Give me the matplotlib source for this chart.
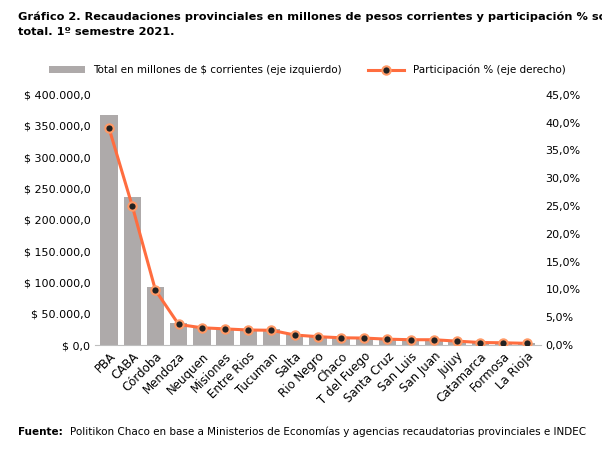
import matplotlib.pyplot as plt
from matplotlib.ticker import FuncFormatter

provincias = ["PBA", "CABA", "Córdoba", "Mendoza", "Neuquen", "Misiones", "Entre Rios",
              "Tucuman", "Salta", "Rio Negro", "Chaco", "T del Fuego", "Santa Cruz",
              "San Luis", "San Juan", "Jujuy", "Catamarca", "Formosa", "La Rioja"]
montos = [367600, 235900, 92400, 34800, 29200, 27300, 25400, 25000, 17000, 14100,
          12200, 11800, 9900, 8900, 8900, 6600, 4200, 3800, 2800]
participacion = [38.96, 25.0, 9.86, 3.7, 3.1, 2.9, 2.7, 2.65, 1.8, 1.5,
                 1.3, 1.25, 1.05, 0.95, 0.95, 0.7, 0.45, 0.4, 0.3]

def fmt_pesos(v, p):
    return "$ " + f"{v:,.1f}".replace(",", "X").replace(".", ",").replace("X", ".")

fig = plt.figure(figsize=(6.02, 4.51), dpi=100)
ax = fig.add_axes([0.158, 0.235, 0.74, 0.555])
x = range(len(provincias))
b = ax.bar(x, montos, width=0.75, color="#AEAAAA", label="Total en millones de $ corrientes (eje izquierdo)")
ax.set_ylim(0, 400000)
ax.set_yticks(range(0, 400001, 50000))
ax.yaxis.set_major_formatter(FuncFormatter(fmt_pesos))
ax.set_xlim(-0.6, len(provincias) - 0.4)
ax.set_xticks(list(x))
ax.set_xticklabels(provincias, rotation=45, ha="right", rotation_mode="anchor", fontsize=8.5)
ax.tick_params(axis="y", labelsize=8, length=0)
ax.tick_params(axis="x", length=0)
for s in ["top", "right", "left"]:
    ax.spines[s].set_visible(False)
ax.spines["bottom"].set_color("#BFBFBF")

ax2 = ax.twinx()
l, = ax2.plot(x, participacion, color="#FF6D3F", lw=2.2, marker="o", markersize=6,
              markerfacecolor="#222222", markeredgecolor="#FF9966", markeredgewidth=1.5,
              label="Participación % (eje derecho)")
ax2.set_ylim(0, 45)
ax2.set_yticks(range(0, 46, 5))
ax2.yaxis.set_major_formatter(FuncFormatter(lambda v, p: f"{v:.1f}%".replace(".", ",")))
ax2.tick_params(axis="y", labelsize=8, length=0)
for s in ["top", "right", "left", "bottom"]:
    ax2.spines[s].set_visible(False)

fig.legend(handles=[b, l], loc="center", bbox_to_anchor=(0.51, 0.845), ncol=2, frameon=False,
           fontsize=7.5, handlelength=3.5, columnspacing=2.5)

fig.text(0.03, 0.975, "Gráfico 2. Recaudaciones provinciales en millones de pesos corrientes y participación % sobre el\ntotal. 1º semestre 2021.",
         fontsize=8.2, fontweight="bold", va="top", linespacing=1.7)
t = fig.text(0.03, 0.035, "Fuente:", fontsize=7.5, fontweight="bold")
fig.text(0.117, 0.035, "Politikon Chaco en base a Ministerios de Economías y agencias recaudatorias provinciales e INDEC",
         fontsize=7.5)
fig.savefig("out.png", dpi=100)
